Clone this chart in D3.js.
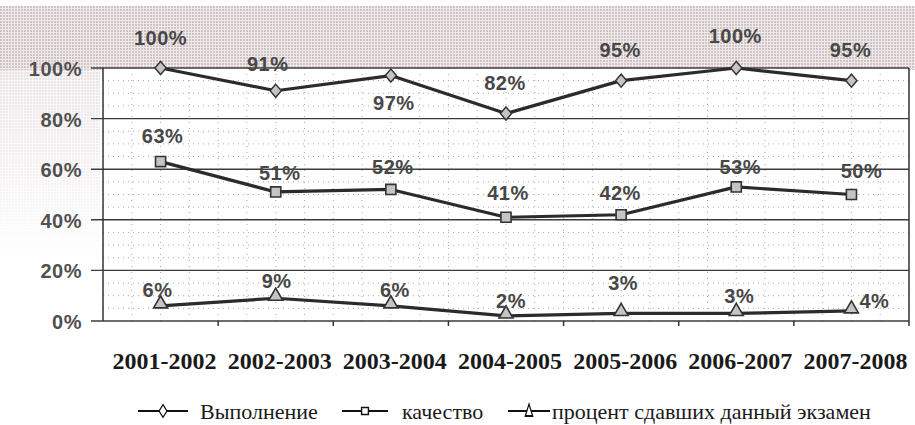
<!DOCTYPE html>
<html>
<head>
<meta charset="utf-8">
<script src="https://cdn.jsdelivr.net/npm/d3@7"></script>
<style>
  body { margin: 0; background: #fff; }
  svg { display: block; }
</style>
</head>
<body>
<svg id="chart" width="915" height="425"></svg>
<script>
// data
var years = ["2001-2002", "2002-2003", "2003-2004", "2004-2005", "2005-2006", "2006-2007", "2007-2008"];
var vypolnenie = [100, 91, 97, 82, 95, 100, 95];
var kachestvo = [63, 51, 52, 41, 42, 53, 50];
var sdavshih = [6, 9, 6, 2, 3, 3, 4];
var yTicks = [0, 20, 40, 60, 80, 100];
var seriesNames = ["Выполнение", "качество", "процент сдавших данный экзамен"];

// where each value label sits relative to its point (dx, dy of baseline)
var labelShift = [
    [[0,-23],[-8,-20],[3,34],[-1,-24],[-1,-24],[-1,-25],[-1,-24]],
    [[2,-19],[4,-12],[2,-15],[2,-17],[-1,-15],[4,-13],[10,-17]],
    [[-3,-9],[1,-10],[4,-9],[5,-8],[2,-23],[3,-10],[23,-3]]
];

var serif = "'Liberation Serif', 'Times New Roman', 'DejaVu Serif', serif";
var sans = "'Liberation Sans', Arial, sans-serif";

function DrawChart() {
    var svg = d3.select("#chart");
    var pLeft = 103, pRight = 909, pTop = 68, pBottom = 321;

    var x = d3.scalePoint().domain(years).range([pLeft, pRight]).padding(0.5);
    var y = d3.scaleLinear().domain([0, 100]).range([pBottom, pTop]);

    // scanned-paper look: halftone dots on a tinted band
    var defs = svg.append("defs");
    var pat = defs.append("pattern").attr("id", "dots")
        .attr("width", 3).attr("height", 3).attr("patternUnits", "userSpaceOnUse");
    pat.append("rect").attr("width", 3).attr("height", 3).attr("fill", "#f3e7e9");
    pat.append("circle").attr("cx", 1).attr("cy", 1).attr("r", 0.9).attr("fill", "#8c958f").attr("opacity", 0.6);

    var fade = defs.append("linearGradient").attr("id", "fade").attr("x1", 0).attr("x2", 0).attr("y1", 0).attr("y2", 1);
    fade.append("stop").attr("offset", "0%").attr("stop-color", "#fff").attr("stop-opacity", 0);
    fade.append("stop").attr("offset", "100%").attr("stop-color", "#fff").attr("stop-opacity", 1);

    svg.append("rect").attr("x", 0).attr("y", 6).attr("width", 915).attr("height", 64).attr("fill", "url(#dots)");
    svg.append("rect").attr("x", 0).attr("y", 60).attr("width", 100).attr("height", 200).attr("fill", "url(#dots)").attr("opacity", 0.5);
    svg.append("rect").attr("x", 0).attr("y", 60).attr("width", 100).attr("height", 200).attr("fill", "url(#fade)");

    // plot area
    svg.append("rect").attr("x", pLeft).attr("y", pTop).attr("width", pRight - pLeft).attr("height", pBottom - pTop).attr("fill", "#fff");

    // minor dotted grid
    var minor = d3.range(5, 100, 5).filter(v => v % 20 != 0);
    svg.append("g").selectAll("line").data(minor).join("line")
        .attr("x1", pLeft).attr("x2", pRight)
        .attr("y1", d => y(d)).attr("y2", d => y(d))
        .attr("stroke", "#a9a9a9").attr("stroke-width", 1).attr("stroke-dasharray", "1,4");

    var step = x.step();
    var vlines = d3.range(1, years.length * 4).map(i => pLeft + i * step / 4);
    svg.append("g").selectAll("line").data(vlines).join("line")
        .attr("x1", d => d).attr("x2", d => d)
        .attr("y1", pTop).attr("y2", pBottom)
        .attr("stroke", "#a9a9a9").attr("stroke-width", 1).attr("stroke-dasharray", "1,5");

    // major grid
    svg.append("g").selectAll("line").data(yTicks).join("line")
        .attr("x1", pLeft - 12).attr("x2", pRight)
        .attr("y1", d => y(d)).attr("y2", d => y(d))
        .attr("stroke", "#3c3c3c").attr("stroke-width", 1.4);

    // frame
    svg.append("line").attr("x1", pLeft).attr("x2", pLeft).attr("y1", pTop).attr("y2", pBottom).attr("stroke", "#333").attr("stroke-width", 1.5);
    svg.append("line").attr("x1", pRight).attr("x2", pRight).attr("y1", pTop).attr("y2", pBottom + 5).attr("stroke", "#333").attr("stroke-width", 1.5);

    // x ticks between categories
    var xticks = d3.range(1, years.length).map(i => pLeft + i * step);
    svg.append("g").selectAll("line").data(xticks).join("line")
        .attr("x1", d => d).attr("x2", d => d)
        .attr("y1", pBottom).attr("y2", pBottom + 5)
        .attr("stroke", "#333").attr("stroke-width", 1.5);

    // y axis labels
    svg.append("g").selectAll("text").data(yTicks).join("text")
        .attr("x", 82).attr("y", d => y(d) + 8)
        .attr("text-anchor", "end")
        .style("font-family", sans)
        .attr("font-weight", "bold")
        .attr("font-size", 20)
        .attr("letter-spacing", 0.5)
        .attr("fill", "#505050")
        .text(d => d + "%");

    // x category labels
    svg.append("g").selectAll("text").data(years).join("text")
        .attr("x", d => x(d) + 4).attr("y", 369)
        .attr("text-anchor", "middle")
        .style("font-family", serif)
        .attr("font-weight", "bold")
        .attr("font-size", 24)
        .attr("fill", "#1a1a1a")
        .text(d => d);

    // series
    var allSeries = [vypolnenie, kachestvo, sdavshih];
    var symbols = [d3.symbolDiamond2, d3.symbolSquare2, d3.symbolTriangle2];
    var symSize = [110, 130, 140];

    var line = d3.line().x((d, i) => x(years[i])).y(d => y(d));

    allSeries.forEach((vals, s) => {
        svg.append("path").datum(vals)
            .attr("d", line)
            .attr("fill", "none")
            .attr("stroke", "#2b2b2b")
            .attr("stroke-width", 3.2)
            .attr("stroke-linejoin", "round");

        svg.append("g").selectAll("path").data(vals).join("path")
            .attr("d", d3.symbol().type(symbols[s]).size(symSize[s]))
            .attr("transform", (d, i) => `translate(${x(years[i])},${y(d) + (s == 2 ? -2 : 0)})${s == 0 ? " scale(0.85,1)" : ""}`)
            .attr("fill", "#c4c4c4")
            .attr("stroke", "#333")
            .attr("stroke-width", 1.6);

        svg.append("g").selectAll("text").data(vals).join("text")
            .attr("x", (d, i) => x(years[i]) + labelShift[s][i][0])
            .attr("y", (d, i) => y(d) + labelShift[s][i][1])
            .attr("text-anchor", "middle")
            .style("font-family", sans)
            .attr("font-weight", "bold")
            .attr("font-size", 20)
            .attr("letter-spacing", 0.5)
            .attr("fill", "#474747")
            .text(d => d + "%");
    });

    // legend
    var legendX = [138, 342, 508];
    var legendW = [50, 46, 42];
    var legendTextX = [200, 402, 552];
    var legend = svg.append("g");
    seriesNames.forEach((name, s) => {
        var lx = legendX[s], w = legendW[s], ly = 411;
        legend.append("line").attr("x1", lx).attr("x2", lx + w).attr("y1", ly).attr("y2", ly)
            .attr("stroke", "#111").attr("stroke-width", 1.8);
        legend.append("path")
            .attr("d", d3.symbol().type(symbols[s]).size(s == 0 ? 70 : 60))
            .attr("transform", `translate(${lx + w / 2},${ly + (s == 2 ? 1 : 0)})${s == 0 ? " scale(0.75,1.2)" : s == 2 ? " scale(0.8,1.5)" : ""}`)
            .attr("fill", "#fff").attr("stroke", "#111").attr("stroke-width", 1.4);
        legend.append("text")
            .attr("x", legendTextX[s]).attr("y", 419)
            .style("font-family", serif)
            .attr("font-size", 22)
            .attr("fill", "#1a1a1a")
            .text(name);
    });
}

DrawChart();
</script>
</body>
</html>
